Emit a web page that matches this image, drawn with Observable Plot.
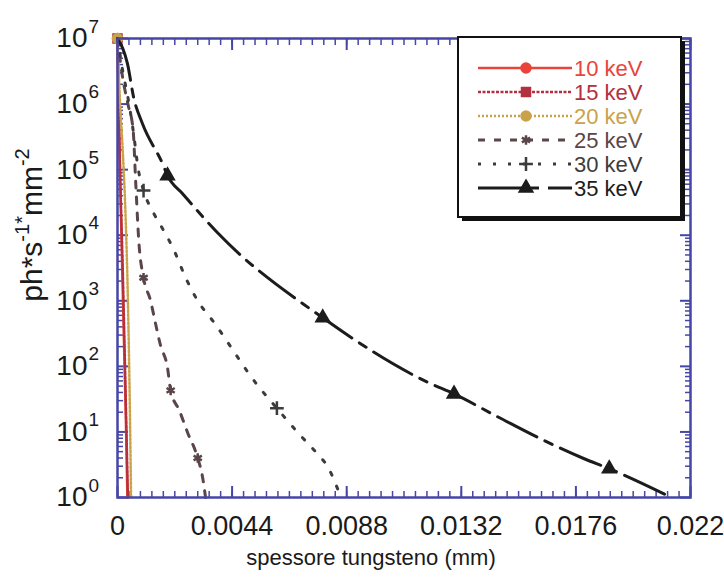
<!DOCTYPE html>
<html>
<head>
<meta charset="utf-8">
<script src="https://cdn.jsdelivr.net/npm/d3@7"></script>
<script src="https://cdn.jsdelivr.net/npm/@observablehq/plot@0.6"></script>
<style>
  html, body { margin: 0; padding: 0; background: #fff; }
  #chart { width: 724px; height: 580px; }
</style>
</head>
<body>
<div id="chart"></div>
<script>
// ---- data (thickness in mm, flux in ph*s^-1*mm^-2) ----
const energies = ["10 keV", "15 keV", "20 keV", "25 keV", "30 keV", "35 keV"];
const colors   = ["#e8443a", "#b3303e", "#c9a24a", "#5a4649", "#3c3c3c", "#1c1c1c"];

const thick10 = [0, 0.00003, 0.00008, 0.00015, 0.00024, 0.00032, 0.00038];
const flux10  = [1e7, 1.6e6, 1.6e5, 1e4, 316, 16, 1];

const thick15 = [0, 0.00005, 0.0001, 0.0002, 0.0003, 0.0004];
const flux15  = [1e7, 1e6, 1e5, 3200, 63, 1];

const thick20 = [0, 0.0001, 0.0002, 0.0003, 0.0004, 0.00048, 0.00052];
const flux20  = [1e7, 1e6, 2e5, 2.5e4, 1000, 16, 1];

const thick25 = [0, 0.0002, 0.0004, 0.0006, 0.0007, 0.00082, 0.001, 0.00127, 0.00146, 0.00165, 0.00192, 0.00204, 0.00238, 0.00269, 0.00308, 0.00327, 0.00338];
const flux25  = [1e7, 2.5e6, 1e6, 4e5, 6.3e4, 7900, 2240, 1000, 450, 210, 95, 43, 21, 9.8, 4, 2, 1];

const thick30 = [0, 0.0002, 0.0004, 0.0006, 0.0008, 0.001, 0.00138, 0.00173, 0.00212, 0.00262, 0.00308, 0.00365, 0.00542, 0.00612, 0.00688, 0.00762, 0.00808, 0.00858];
const flux30  = [1e7, 3.2e6, 1.26e6, 4e5, 1e5, 4.8e4, 2.2e4, 1.26e4, 6500, 2240, 1000, 500, 49, 23, 10.2, 4.9, 2.9, 1];

const thick35 = [0, 0.0002, 0.00038, 0.00062, 0.00096, 0.00173, 0.00192, 0.0025, 0.00388, 0.00788, 0.01196, 0.01292, 0.01465, 0.01638, 0.01792, 0.01888, 0.02127];
const flux35  = [1e7, 7.08e6, 4.17e6, 1.26e6, 5e5, 1.23e5, 8.1e4, 4.3e4, 1.05e4, 550, 56, 38, 16.6, 7.4, 3.9, 2.75, 1];

// marker positions (indices into each series)
const markerIdx = [[0], [0], [0], [6, 11, 14], [5, 13], [6, 9, 11, 15]];
const symbols   = ["circle", "square", "circle", "asterisk", "plus", "triangle"];
const dashes    = [null, "3,1.5", "2,2", "7,9", "3,12", "44,9,8,9"];

const xMajor = [0, 0.0044, 0.0088, 0.0132, 0.0176, 0.022];
const xMajorLabels = ["0", "0.0044", "0.0088", "0.0132", "0.0176", "0.022"];
const xMinor = d3.range(0, 51).map(i => i * 0.00044).filter(v => v <= 0.022 + 1e-12);
const yMajor = [1, 10, 100, 1000, 1e4, 1e5, 1e6, 1e7];
const yMajorExp = ["0", "1", "2", "3", "4", "5", "6", "7"];
const yMinor = yMajor.slice(0, -1).flatMap(d => [2,3,4,5,6,7,8,9].map(k => d * k));

const xTitle = "spessore tungsteno (mm)";

// ---- build table ----
const thicks = [thick10, thick15, thick20, thick25, thick30, thick35];
const fluxes = [flux10, flux15, flux20, flux25, flux30, flux35];
const series = energies.map((e, i) => thicks[i].map((t, j) => ({energy: e, t, f: fluxes[i][j]})));

const AX = "#4646a6";
const FONT = "Liberation Sans, Arial, Helvetica, sans-serif";

const marks = [];
series.forEach((s, i) => {
  marks.push(Plot.line(s, {x: "t", y: "f", stroke: colors[i], strokeWidth: i < 3 ? 2.5 : 3,
    strokeDasharray: dashes[i] ?? undefined, curve: "monotone-x"}));
  const mk = markerIdx[i].map(j => s[j]);
  const filledSym = symbols[i] !== "asterisk" && symbols[i] !== "plus";
  marks.push(Plot.dot(mk, {x: "t", y: "f", symbol: () => symbols[i], r: 4.5,
    fill: filledSym ? colors[i] : "none", stroke: colors[i], strokeWidth: 2.5}));
});

const chart = Plot.plot({
  width: 724, height: 580,
  marginLeft: 117, marginRight: 34, marginTop: 38, marginBottom: 83,
  style: {fontFamily: FONT, background: "white", color: "#111", overflow: "visible"},
  x: {domain: [0, 0.022], label: null},
  y: {type: "log", domain: [1, 1e7], label: null},
  marks: [
    // minor ticks
    Plot.axisX({anchor: "bottom", ticks: xMinor, tickSize: -6, tickFormat: () => "", stroke: AX, strokeWidth: 1.5}),
    Plot.axisX({anchor: "top", ticks: xMinor, tickSize: -6, tickFormat: () => "", stroke: AX, strokeWidth: 1.5}),
    Plot.axisY({anchor: "left", ticks: yMinor, tickSize: -6, tickFormat: () => "", stroke: AX, strokeWidth: 1.5}),
    Plot.axisY({anchor: "right", ticks: yMinor, tickSize: -6, tickFormat: () => "", stroke: AX, strokeWidth: 1.5}),
    // major ticks
    Plot.axisX({anchor: "bottom", ticks: xMajor, tickSize: -11, tickFormat: () => "", stroke: AX, strokeWidth: 2}),
    Plot.axisX({anchor: "top", ticks: xMajor, tickSize: -11, tickFormat: () => "", stroke: AX, strokeWidth: 2}),
    Plot.axisY({anchor: "left", ticks: yMajor, tickSize: -11, tickFormat: () => "", stroke: AX, strokeWidth: 2}),
    Plot.axisY({anchor: "right", ticks: yMajor, tickSize: -11, tickFormat: () => "", stroke: AX, strokeWidth: 2}),
    // x labels
    Plot.axisX({anchor: "bottom", ticks: xMajor, tickSize: 0, tickPadding: 18, fontSize: 27,
      tickFormat: (d, i) => xMajorLabels[i], fill: "#1a1a1a"}),
    // y labels with superscripts
    Plot.text(yMajor, {frameAnchor: "left", y: d => d, text: () => "10", textAnchor: "end", dx: -30, fontSize: 28, fill: "#1a1a1a"}),
    Plot.text(yMajor, {frameAnchor: "left", y: d => d, text: (d, i) => yMajorExp[i], textAnchor: "start", dx: -29, dy: -12, fontSize: 19, fill: "#1a1a1a"}),
    // x title
    Plot.text([xTitle], {frameAnchor: "bottom", text: d => d, dx: -33, dy: 67, fontSize: 22, fill: "#1a1a1a"}),
    ...marks,
    Plot.frame({stroke: AX, strokeWidth: 2.5})
  ]
});
document.getElementById("chart").appendChild(chart);

// ---- y axis title with superscripts ----
const svg = d3.select(chart);
const yt = svg.append("text")
  .attr("transform", "translate(42,225) rotate(-90)")
  .attr("text-anchor", "middle")
  .attr("font-family", FONT).attr("font-size", 30).attr("fill", "#1a1a1a");
yt.append("tspan").text("ph*s");
yt.append("tspan").attr("font-size", 20).attr("dy", -13).text("-1*");
yt.append("tspan").attr("dy", 13).text("mm");
yt.append("tspan").attr("font-size", 20).attr("dy", -13).text("-2");

// ---- legend ----
const lg = svg.append("g");
const bx = 458, by = 37, bw = 223, bh = 180;
lg.append("rect").attr("x", bx + 4).attr("y", by + 4).attr("width", bw).attr("height", bh).attr("fill", "#111");
lg.append("rect").attr("x", bx).attr("y", by).attr("width", bw).attr("height", bh)
  .attr("fill", "white").attr("stroke", "#111").attr("stroke-width", 2);
energies.forEach((e, i) => {
  const yy = 68 + i * 24;
  lg.append("line").attr("x1", 478).attr("x2", 572).attr("y1", yy).attr("y2", yy)
    .attr("stroke", colors[i]).attr("stroke-width", i < 3 ? 2.5 : 3)
    .attr("stroke-dasharray", dashes[i]);
  const sym = d3.symbol().type({circle: d3.symbolCircle, square: d3.symbolSquare, asterisk: d3.symbolAsterisk,
    plus: d3.symbolPlus, triangle: d3.symbolTriangle}[symbols[i]]).size(64);
  const filledSym = symbols[i] !== "asterisk" && symbols[i] !== "plus";
  lg.append("path").attr("d", sym()).attr("transform", `translate(526,${yy})`)
    .attr("fill", filledSym ? colors[i] : "none").attr("stroke", colors[i]).attr("stroke-width", 2.5);
  lg.append("text").attr("x", 574).attr("y", yy + 8).attr("text-anchor", "start")
    .attr("font-family", FONT).attr("font-size", 22)
    .attr("fill", colors[i]).text(e);
});
</script>
</body>
</html>
